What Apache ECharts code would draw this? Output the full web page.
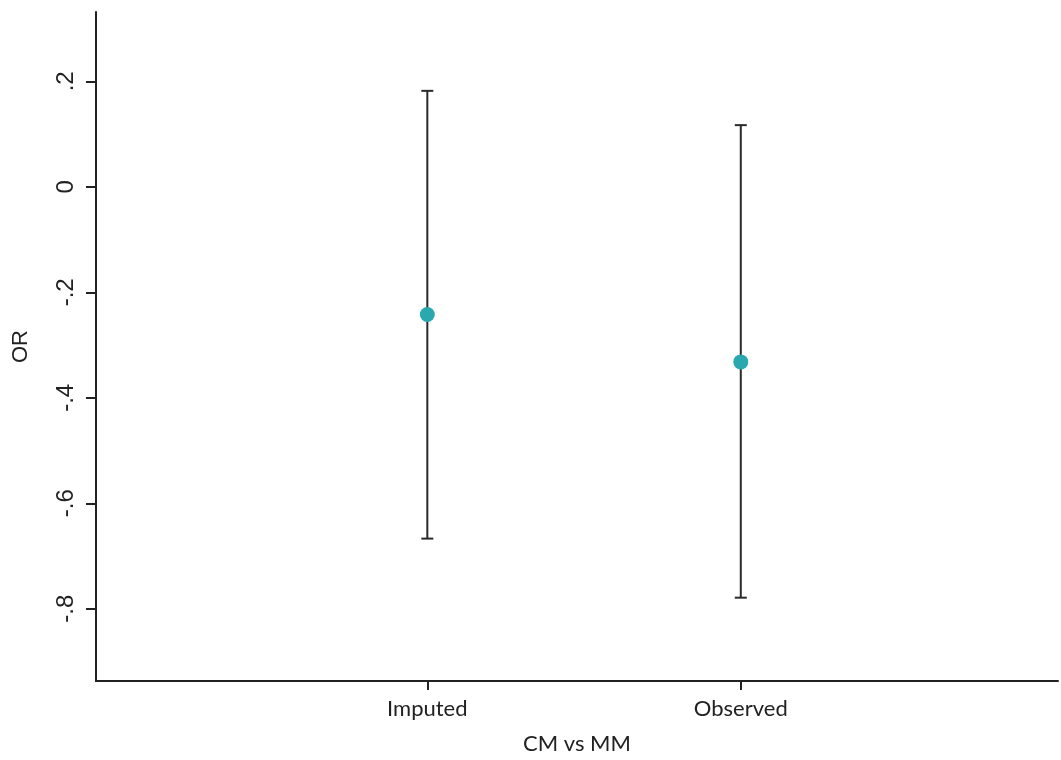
<!DOCTYPE html>
<html>
<head>
<meta charset="utf-8">
<script src="https://cdn.jsdelivr.net/npm/echarts@6/dist/echarts.min.js"></script>
<style>html,body{margin:0;padding:0;background:#fff}#c{width:1061px;height:760px}</style>
</head>
<body>
<div id="c"></div>
<script>
var categories = ['Imputed', 'Observed'];
var positions = [1, 2];
var estimates = [-0.242, -0.332];
var lowerCI = [-0.667, -0.779];
var upperCI = [0.182, 0.117];
var yTicks = [-0.8, -0.6, -0.4, -0.2, 0, 0.2];
var yTickLabels = ['-.8', '-.6', '-.4', '-.2', '0', '.2'];

var chart = echarts.init(document.getElementById('c'));
var ink = '#222222';
var barData = positions.map(function (p, i) { return [p, lowerCI[i], upperCI[i]]; });
var pointData = positions.map(function (p, i) { return [p, estimates[i]]; });

chart.setOption({
  animation: false,
  grid: { left: 96, right: 3, top: 12, bottom: 75, containLabel: false },
  xAxis: {
    type: 'value', min: -0.057, max: 3.012,
    name: 'CM vs MM', nameLocation: 'middle', nameGap: 52,
    nameTextStyle: { fontFamily: 'Lato', fontSize: 22, color: '#222' },
    axisLine: { show: true, onZero: false, lineStyle: { color: ink, width: 2 } },
    axisTick: { show: true, length: 9, lineStyle: { color: ink, width: 2 }, customValues: positions },
    axisLabel: {
      fontFamily: 'Lato', fontSize: 22, color: '#222', margin: 17,
      customValues: positions,
      formatter: function (v) { var i = positions.indexOf(v); return i >= 0 ? categories[i] : ''; }
    },
    splitLine: { show: false }
  },
  yAxis: {
    type: 'value', min: -0.937, max: 0.3315,
    name: 'OR', nameLocation: 'middle', nameGap: 64, nameRotate: 90,
    nameTextStyle: { fontFamily: 'Liberation Sans', fontSize: 22, color: '#222' },
    axisLine: { show: true, onZero: false, lineStyle: { color: ink, width: 2 } },
    axisTick: { show: true, length: 10, lineStyle: { color: ink, width: 2 }, customValues: yTicks },
    axisLabel: {
      fontFamily: 'Liberation Sans', fontSize: 24, color: '#222', rotate: 90, margin: 18,
      customValues: yTicks,
      formatter: function (v) {
        for (var i = 0; i < yTicks.length; i++) { if (Math.abs(yTicks[i] - v) < 1e-6) return yTickLabels[i]; }
        return '';
      }
    },
    splitLine: { show: false }
  },
  series: [
    {
      type: 'custom',
      data: barData,
      renderItem: function (params, api) {
        var x = api.value(0);
        var lo = api.coord([x, api.value(1)]);
        var hi = api.coord([x, api.value(2)]);
        var hw = 6;
        var style = { stroke: '#2a2a2a', lineWidth: 2 };
        return {
          type: 'group',
          children: [
            { type: 'line', shape: { x1: lo[0], y1: lo[1], x2: hi[0], y2: hi[1] }, style: style },
            { type: 'line', shape: { x1: hi[0] - hw, y1: hi[1], x2: hi[0] + hw, y2: hi[1] }, style: style },
            { type: 'line', shape: { x1: lo[0] - hw, y1: lo[1], x2: lo[0] + hw, y2: lo[1] }, style: style }
          ]
        };
      },
      z: 1
    },
    {
      type: 'scatter',
      data: pointData,
      symbol: 'circle', symbolSize: 15,
      itemStyle: { color: '#2aa8b0', opacity: 1 },
      z: 2
    }
  ]
});
</script>
</body>
</html>
